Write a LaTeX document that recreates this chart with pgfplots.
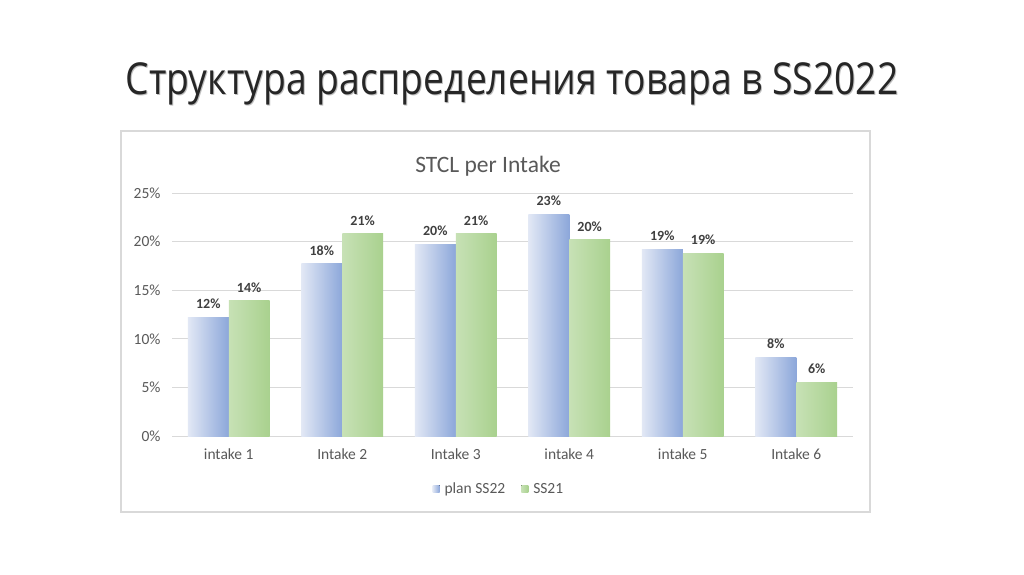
\documentclass[border=0pt]{standalone}
\usepackage{fontspec}
\setmainfont{Carlito}
\newfontfamily\titlefont{Open Sans}
\usepackage{graphicx}
\usepackage{pgfplots}
\pgfplotsset{compat=1.18}
\definecolor{gridc}{HTML}{D9D9D9}
\definecolor{txt}{HTML}{595959}
\definecolor{lbl}{HTML}{404040}
\definecolor{bluel}{HTML}{E2E8F5}
\definecolor{blued}{HTML}{8CA7DA}
\definecolor{greenc}{HTML}{A9D18E}

% one bar per \addplot so that each bar gets its own shading
\pgfplotsset{
  planbar/.style={bar shift=-0.18, draw=none, left color=bluel, middle color=blued!70!bluel, right color=blued},
  ssbar/.style={bar shift=0.18, draw=none, left color=greenc!65!white, middle color=greenc, right color=greenc},
}

\begin{document}
\begin{tikzpicture}[x=1pt,y=1pt]
\fill[white] (0,0) rectangle (1024,574);
\path[use as bounding box] (0,0) rectangle (1024,574);
% slide title with a faint shadow
\node[text=black!25] at (513,489) {\resizebox{773pt}{\height}{\titlefont\fontsize{44}{50}\selectfont Структура распределения товара в SS2022}};
\node[text=black!85] at (512,490) {\resizebox{773pt}{\height}{\titlefont\fontsize{44}{50}\selectfont Структура распределения товара в SS2022}};
% chart frame
\draw[gridc, line width=1.2pt] (121,443) rectangle (870,62);
\node[text=txt, font=\fontsize{23.5}{26}\selectfont] at (488,408) {STCL per Intake};

\begin{axis}[
  at={(172pt,138pt)}, anchor=south west,
  scale only axis, width=681pt, height=243pt,
  xmin=-0.5, xmax=5.5, ymin=0, ymax=25,
  clip=false,
  axis line style={draw=none},
  major tick length=0pt,
  ymajorgrids, grid style={gridc, line width=1pt},
  ytick={0,5,...,25},
  yticklabel={\pgfmathprintnumber{\tick}\%},
  yticklabel style={xshift=-8pt},
  xtick={0,...,5},
  xticklabels={intake 1, Intake 2, Intake 3, intake 4, intake 5, Intake 6},
  xticklabel style={yshift=-9pt},
  tick label style={text=txt, font=\fontsize{15.5}{17}\selectfont},
  /pgf/number format/assume math mode=true,
  ybar, bar width=0.36,
  nodes near coords={\pgfmathprintnumber[fixed, precision=0]{\pgfplotspointmeta}\%},
  nodes near coords style={font=\bfseries\fontsize{14}{15}\selectfont, text=lbl, yshift=5pt},
  legend columns=2,
  legend style={at={(0.48,-0.218)}, anchor=center, draw=none, fill=none,
    font=\fontsize{15.5}{17}\selectfont, text=txt,
    /tikz/every even column/.append style={column sep=14pt}},
  legend image code/.code={\fill[#1] (0pt,-3.5pt) rectangle (7pt,3.5pt); \path (10pt,0pt);},
]
% plan SS22
\addplot[planbar] coordinates {(0,12.2)};
\addplot[ssbar] coordinates {(0,13.9)};
\legend{plan SS22, SS21}
\addplot[planbar, forget plot] coordinates {(1,17.7)};
\addplot[planbar, forget plot] coordinates {(2,19.7)};
\addplot[planbar, forget plot] coordinates {(3,22.8)};
\addplot[planbar, forget plot] coordinates {(4,19.2)};
\addplot[planbar, forget plot] coordinates {(5,8.1)};
% SS21
\addplot[ssbar, forget plot] coordinates {(1,20.8)};
\addplot[ssbar, forget plot] coordinates {(2,20.8)};
\addplot[ssbar, forget plot] coordinates {(3,20.2)};
\addplot[ssbar, forget plot] coordinates {(4,18.8)};
\addplot[ssbar, forget plot] coordinates {(5,5.5)};
\end{axis}
\end{tikzpicture}
\end{document}
